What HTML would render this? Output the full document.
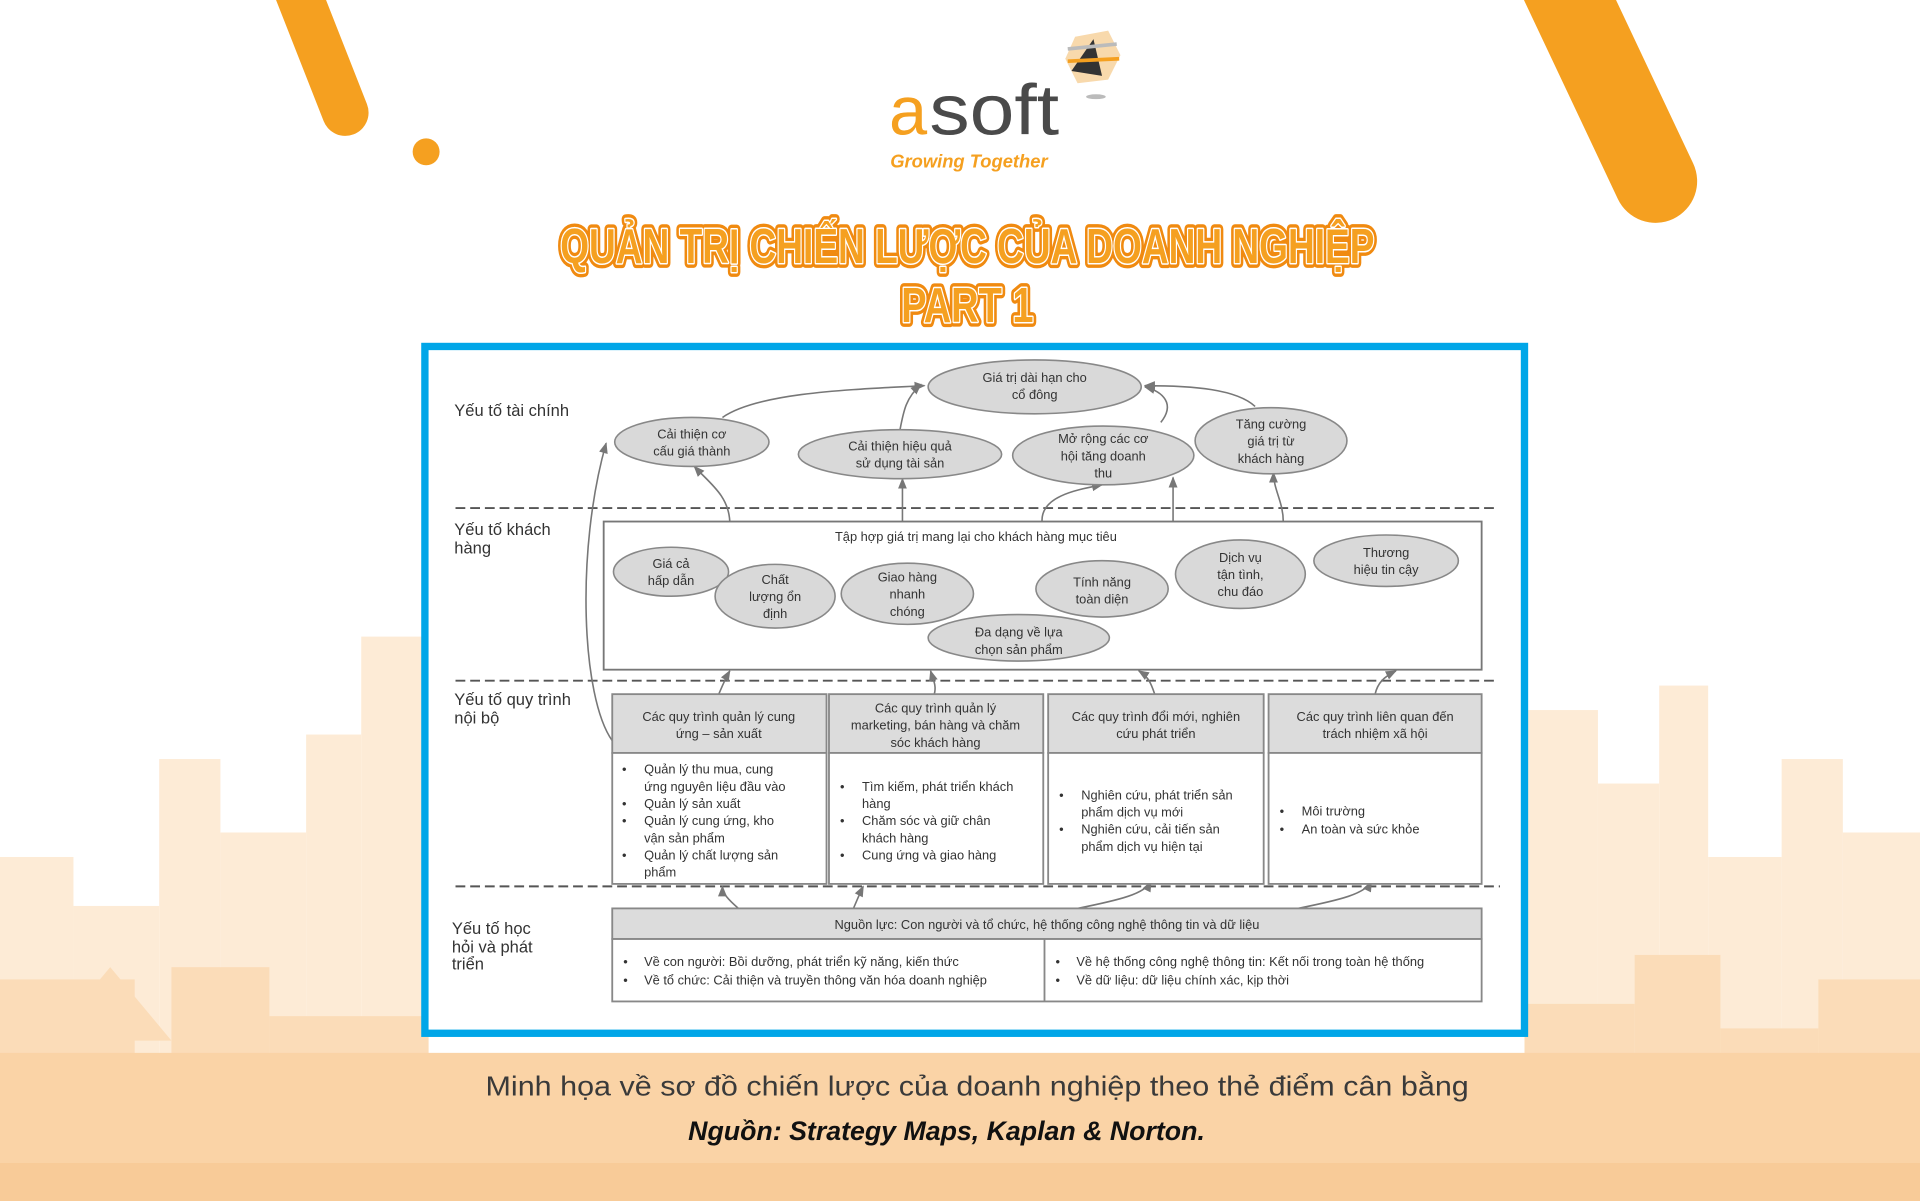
<!DOCTYPE html>
<html><head><meta charset="utf-8"><style>
html,body{margin:0;padding:0;background:#fff;}
svg{display:block;}
text{font-family:"Liberation Sans",sans-serif;}
.d{font-size:10.5px;fill:#333;}
.l{font-size:13.5px;fill:#333;}
</style></head><body>
<svg width="1920" height="1201" viewBox="0 0 1568 981" preserveAspectRatio="none" xmlns="http://www.w3.org/2000/svg">
<defs>
<marker id="ar" viewBox="0 0 10 10" refX="9" refY="5" markerWidth="7" markerHeight="7" orient="auto"><path d="M0,1 L10,5 L0,9 z" fill="#777"/></marker>
</defs>
<rect width="1568" height="981" fill="#fff"/>
<g fill="#fdebd6">
<rect x="0" y="700" width="60" height="281"/><rect x="60" y="740" width="70" height="241"/><rect x="130" y="620" width="50" height="361"/>
<rect x="180" y="680" width="70" height="301"/><rect x="250" y="600" width="45" height="381"/><rect x="295" y="520" width="55" height="461"/>
<rect x="1245" y="580" width="60" height="401"/><rect x="1305" y="640" width="50" height="341"/><rect x="1355" y="560" width="40" height="421"/>
<rect x="1395" y="700" width="60" height="281"/><rect x="1455" y="620" width="50" height="361"/><rect x="1505" y="680" width="63" height="301"/>
</g>
<g fill="#fbdcb8">
<rect x="0" y="800" width="110" height="181"/><polygon points="40,850 90,790 140,850"/><rect x="140" y="790" width="80" height="191"/>
<rect x="220" y="830" width="130" height="151"/><rect x="1245" y="820" width="90" height="161"/><rect x="1335" y="780" width="70" height="201"/>
<rect x="1405" y="840" width="80" height="141"/><rect x="1485" y="800" width="83" height="181"/>
</g>
<rect x="0" y="860" width="1568" height="121" fill="#fad3a6"/>
<rect x="0" y="950" width="1568" height="31" fill="#f8cb98"/>
<line x1="238" y1="-20" x2="282" y2="92" stroke="#f5a020" stroke-width="38" stroke-linecap="round"/>
<circle cx="348" cy="124" r="11" fill="#f5a020"/>
<line x1="1268" y1="-30" x2="1352" y2="148" stroke="#f5a020" stroke-width="68" stroke-linecap="round"/>
<polygon points="878,30 905,25 915,45 905,65 880,68 870,48" fill="#f8d9ac"/>
<polygon points="893,32 900,62 875,58" fill="#333"/>
<line x1="872" y1="40" x2="912" y2="36" stroke="#bbb" stroke-width="3"/>
<line x1="872" y1="50" x2="914" y2="48" stroke="#f5a020" stroke-width="3"/>
<ellipse cx="895" cy="79" rx="8" ry="2" fill="#bbb"/>
<text x="726" y="110" style="font-size:56px;fill:#f5a020">a</text>
<text x="759" y="110" textLength="106" lengthAdjust="spacingAndGlyphs" style="font-size:58px;fill:#4a4a4a">soft</text>
<text x="727" y="137" style="font-size:15px;font-weight:bold;font-style:italic;fill:#f5a020">Growing Together</text>
<g style="font-size:40px;font-weight:bold;" text-anchor="middle">
<text x="790" y="215" textLength="665" lengthAdjust="spacingAndGlyphs" style="fill:#f5a020;stroke:#f08a10;stroke-width:8;stroke-linejoin:round">QUẢN TRỊ CHIẾN LƯỢC CỦA DOANH NGHIỆP</text>
<text x="790" y="215" textLength="665" lengthAdjust="spacingAndGlyphs" style="fill:#f5a020;stroke:#fff;stroke-width:2.5;stroke-linejoin:round;paint-order:stroke">QUẢN TRỊ CHIẾN LƯỢC CỦA DOANH NGHIỆP</text>
<text x="790" y="263" textLength="108" lengthAdjust="spacingAndGlyphs" style="fill:#f5a020;stroke:#f08a10;stroke-width:8;stroke-linejoin:round">PART 1</text>
<text x="790" y="263" textLength="108" lengthAdjust="spacingAndGlyphs" style="fill:#f5a020;stroke:#fff;stroke-width:2.5;stroke-linejoin:round;paint-order:stroke">PART 1</text>
</g>
<rect x="347" y="283" width="898" height="561" fill="#fff" stroke="#00a6e8" stroke-width="6"/>
<g stroke="#555" stroke-width="1.6" stroke-dasharray="8,4">
<line x1="372" y1="415" x2="1222" y2="415"/><line x1="372" y1="556" x2="1222" y2="556"/><line x1="372" y1="724" x2="1225" y2="724"/>
</g>
<text class="l" x="371" y="340">Yếu tố tài chính</text>
<text class="l" x="371" y="437">Yếu tố khách</text><text class="l" x="371" y="452">hàng</text>
<text class="l" x="371" y="576">Yếu tố quy trình</text><text class="l" x="371" y="591">nội bộ</text>
<text class="l" x="369" y="763">Yếu tố học</text><text class="l" x="369" y="778">hỏi và phát</text><text class="l" x="369" y="792">triển</text>
<g fill="none" stroke="#777" stroke-width="1.3" marker-end="url(#ar)">
<path d="M590,341 C620,320 700,318 755,315"/>
<path d="M735,351 C738,335 740,325 752,314"/>
<path d="M948,345 C960,330 950,320 935,316"/>
<path d="M1025,332 C1010,318 975,315 935,315"/>
<path d="M596,426 C595,405 580,395 567,381"/>
<path d="M737,426 L737,391"/>
<path d="M851,426 C850,405 880,400 900,396"/>
<path d="M958,455 L958,390"/>
<path d="M1048,426 C1048,410 1040,400 1040,386"/>
<path d="M500,605 C475,570 470,450 495,362"/>
<path d="M587,567 C590,560 592,555 596,548"/>
<path d="M763,567 C765,560 762,555 760,548"/>
<path d="M943,567 C940,558 938,553 930,548"/>
<path d="M1123,567 C1125,558 1130,553 1140,548"/>
<path d="M603,742 C595,735 590,730 590,724"/>
<path d="M697,742 C700,735 702,730 705,724"/>
<path d="M880,742 C915,735 935,730 940,720"/>
<path d="M1060,742 C1095,735 1115,730 1120,720"/>
</g>
<g fill="#d9d9d9" stroke="#888" stroke-width="1.3">
<ellipse cx="845" cy="316" rx="87" ry="22"/><ellipse cx="565" cy="361" rx="63" ry="20"/><ellipse cx="735" cy="371" rx="83" ry="20"/>
<ellipse cx="901" cy="372" rx="74" ry="24"/><ellipse cx="1038" cy="360" rx="62" ry="27"/>
</g>
<g class="d" text-anchor="middle">
<text x="845" y="312">Giá trị dài hạn cho</text><text x="845" y="326">cổ đông</text>
<text x="565" y="358">Cải thiện cơ</text><text x="565" y="372">cấu giá thành</text>
<text x="735" y="368">Cải thiện hiệu quả</text><text x="735" y="382">sử dụng tài sản</text>
<text x="901" y="362">Mở rộng các cơ</text><text x="901" y="376">hội tăng doanh</text><text x="901" y="390">thu</text>
<text x="1038" y="350">Tăng cường</text><text x="1038" y="364">giá trị từ</text><text x="1038" y="378">khách hàng</text>
</g>
<rect x="493" y="426" width="717" height="121" fill="#fff" stroke="#777" stroke-width="1.5"/>
<text class="d" x="797" y="442" text-anchor="middle">Tập hợp giá trị mang lại cho khách hàng mục tiêu</text>
<g fill="#d9d9d9" stroke="#888" stroke-width="1.3">
<ellipse cx="548" cy="467" rx="47" ry="20"/><ellipse cx="633" cy="487" rx="49" ry="26"/><ellipse cx="741" cy="485" rx="54" ry="25"/>
<ellipse cx="900" cy="481" rx="54" ry="23"/><ellipse cx="1013" cy="469" rx="53" ry="28"/><ellipse cx="1132" cy="458" rx="59" ry="21"/>
<ellipse cx="832" cy="521" rx="74" ry="19"/>
</g>
<g class="d" text-anchor="middle">
<text x="548" y="464">Giá cả</text><text x="548" y="478">hấp dẫn</text>
<text x="633" y="477">Chất</text><text x="633" y="491">lượng ổn</text><text x="633" y="505">định</text>
<text x="741" y="475">Giao hàng</text><text x="741" y="489">nhanh</text><text x="741" y="503">chóng</text>
<text x="900" y="479">Tính năng</text><text x="900" y="493">toàn diện</text>
<text x="1013" y="459">Dịch vụ</text><text x="1013" y="473">tận tình,</text><text x="1013" y="487">chu đáo</text>
<text x="1132" y="455">Thương</text><text x="1132" y="469">hiệu tin cậy</text>
<text x="832" y="520">Đa dạng về lựa</text><text x="832" y="534">chọn sản phẩm</text>
</g>
<g stroke="#888" stroke-width="1.5">
<rect x="500" y="567" width="175" height="48" fill="#dcdcdc"/><rect x="500" y="615" width="175" height="107" fill="#fff"/>
<rect x="677" y="567" width="175" height="48" fill="#dcdcdc"/><rect x="677" y="615" width="175" height="107" fill="#fff"/>
<rect x="856" y="567" width="176" height="48" fill="#dcdcdc"/><rect x="856" y="615" width="176" height="107" fill="#fff"/>
<rect x="1036" y="567" width="174" height="48" fill="#dcdcdc"/><rect x="1036" y="615" width="174" height="107" fill="#fff"/>
</g>
<g class="d" text-anchor="middle">
<text x="587" y="589">Các quy trình quản lý cung</text><text x="587" y="603">ứng – sản xuất</text>
<text x="764" y="582">Các quy trình quản lý</text><text x="764" y="596">marketing, bán hàng và chăm</text><text x="764" y="610">sóc khách hàng</text>
<text x="944" y="589">Các quy trình đổi mới, nghiên</text><text x="944" y="603">cứu phát triển</text>
<text x="1123" y="589">Các quy trình liên quan đến</text><text x="1123" y="603">trách nhiệm xã hội</text>
</g>
<g class="d">
<text x="508" y="632">•</text><text x="526" y="632">Quản lý thu mua, cung</text><text x="526" y="646">ứng nguyên liệu đầu vào</text>
<text x="508" y="660">•</text><text x="526" y="660">Quản lý sản xuất</text>
<text x="508" y="674">•</text><text x="526" y="674">Quản lý cung ứng, kho</text><text x="526" y="688">vận sản phẩm</text>
<text x="508" y="702">•</text><text x="526" y="702">Quản lý chất lượng sản</text><text x="526" y="716">phẩm</text>
<text x="686" y="646">•</text><text x="704" y="646">Tìm kiếm, phát triển khách</text><text x="704" y="660">hàng</text>
<text x="686" y="674">•</text><text x="704" y="674">Chăm sóc và giữ chân</text><text x="704" y="688">khách hàng</text>
<text x="686" y="702">•</text><text x="704" y="702">Cung ứng và giao hàng</text>
<text x="865" y="653">•</text><text x="883" y="653">Nghiên cứu, phát triển sản</text><text x="883" y="667">phẩm dịch vụ mới</text>
<text x="865" y="681">•</text><text x="883" y="681">Nghiên cứu, cải tiến sản</text><text x="883" y="695">phẩm dịch vụ hiện tại</text>
<text x="1045" y="666">•</text><text x="1063" y="666">Môi trường</text>
<text x="1045" y="681">•</text><text x="1063" y="681">An toàn và sức khỏe</text>
</g>
<rect x="500" y="742" width="710" height="25" fill="#dcdcdc" stroke="#888" stroke-width="1.5"/>
<rect x="500" y="767" width="710" height="51" fill="#fff" stroke="#888" stroke-width="1.5"/>
<line x1="853" y1="767" x2="853" y2="818" stroke="#888" stroke-width="1.5"/>
<text class="d" x="855" y="759" text-anchor="middle">Nguồn lực: Con người và tổ chức, hệ thống công nghệ thông tin và dữ liệu</text>
<g class="d">
<text x="509" y="789">•</text><text x="526" y="789">Về con người: Bồi dưỡng, phát triển kỹ năng, kiến thức</text>
<text x="509" y="804">•</text><text x="526" y="804">Về tổ chức: Cải thiện và truyền thông văn hóa doanh nghiệp</text>
<text x="862" y="789">•</text><text x="879" y="789">Về hệ thống công nghệ thông tin: Kết nối trong toàn hệ thống</text>
<text x="862" y="804">•</text><text x="879" y="804">Về dữ liệu: dữ liệu chính xác, kịp thời</text>
</g>
<text x="798" y="895" text-anchor="middle" textLength="803" lengthAdjust="spacingAndGlyphs" style="font-size:23px;fill:#3a3a3a">Minh họa về sơ đồ chiến lược của doanh nghiệp theo thẻ điểm cân bằng</text>
<text x="773" y="931" text-anchor="middle" textLength="422" lengthAdjust="spacingAndGlyphs" style="font-size:22px;font-weight:bold;font-style:italic;fill:#111">Nguồn: Strategy Maps, Kaplan &amp; Norton.</text>
</svg>
</body></html>
